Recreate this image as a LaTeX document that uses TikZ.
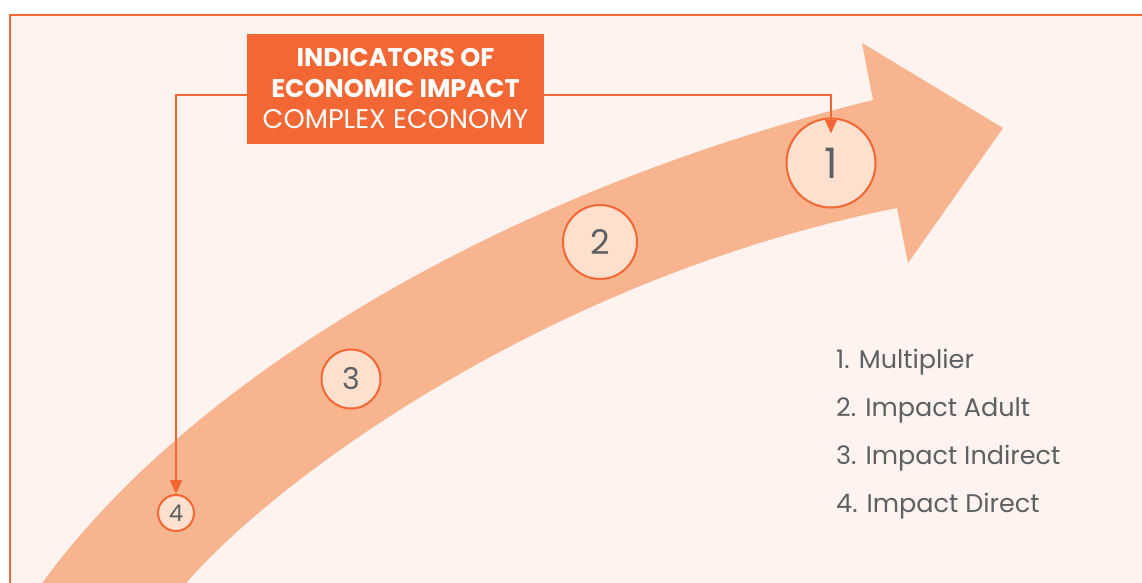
\documentclass[tikz,border=0pt]{standalone}
\usepackage{fontspec}
\setmainfont{Poppins}
\usetikzlibrary{arrows.meta}
\definecolor{bgc}{HTML}{FEF3EE}
\definecolor{orangec}{HTML}{F26733}
\definecolor{bandc}{HTML}{F8B48F}
\definecolor{circfill}{HTML}{FDE0CD}
\definecolor{grayt}{HTML}{5E6063}
\tikzset{
  numcirc/.style={circle, draw=orangec, line width=2pt, fill=circfill, text=grayt, inner sep=0pt},
  conn/.style={draw=orangec, line width=2pt, -{Triangle[length=14pt,width=12pt]}},
  legend/.style={anchor=west, text=grayt, font=\fontsize{25.5}{30}\selectfont, inner sep=0pt},
}
\begin{document}
\begin{tikzpicture}[x=1pt,y=-1pt]
\useasboundingbox (0,0) rectangle (1142,582);
\clip (0,0) rectangle (1142,582);
\fill[white] (0,0) rectangle (1142,582);
\filldraw[fill=bgc, draw=orangec, line width=2pt] (10,15) rectangle (1160,600);
% band arrow
\fill[bandc] (26,600) -- (43,582) .. controls (190,380) and (500,192) .. (873,100)
  -- (862,43) -- (1003,128) -- (908,263) -- (897,208)
  .. controls (560,275) and (285,470) .. (187,582) -- (169,600) -- cycle;
% title
\node[fill=orangec, text=white, minimum width=297pt, minimum height=110pt, align=center, inner sep=0pt,
  font=\fontsize{25.5}{31}\selectfont] (title) at (395.5,89)
  {{\bfseries INDICATORS OF}\\{\bfseries ECONOMIC IMPACT}\\{\fontsize{27}{31}\selectfont COMPLEX ECONOMY}};
% circles
\node[numcirc, minimum size=89pt, font=\fontsize{42}{42}\selectfont] (c1) at (831,163) {1};
\node[numcirc, minimum size=74pt, font=\fontsize{34}{34}\selectfont] (c2) at (600,242) {2};
\node[numcirc, minimum size=59pt, font=\fontsize{30}{30}\selectfont] (c3) at (351,379) {3};
\node[numcirc, minimum size=36pt, font=\fontsize{23}{23}\selectfont] (c4) at (176,513) {4};
% connectors
\coordinate (lc) at (176,95);
\coordinate (rc) at (831,95);
\draw[conn] (title.west |- lc) -- (lc) -- (c4.north);
\draw[conn] (title.east |- rc) -- (rc) -- ([yshift=-16pt]c1.north);
% legend
\node[legend] (l1) at (836,362) {1. Multiplier};
\node[legend] (l2) at (836,410) {2. Impact Adult};
\node[legend] (l3) at (836,458) {3. Impact Indirect};
\node[legend] (l4) at (836,506) {4. Impact Direct};
\end{tikzpicture}
\end{document}
